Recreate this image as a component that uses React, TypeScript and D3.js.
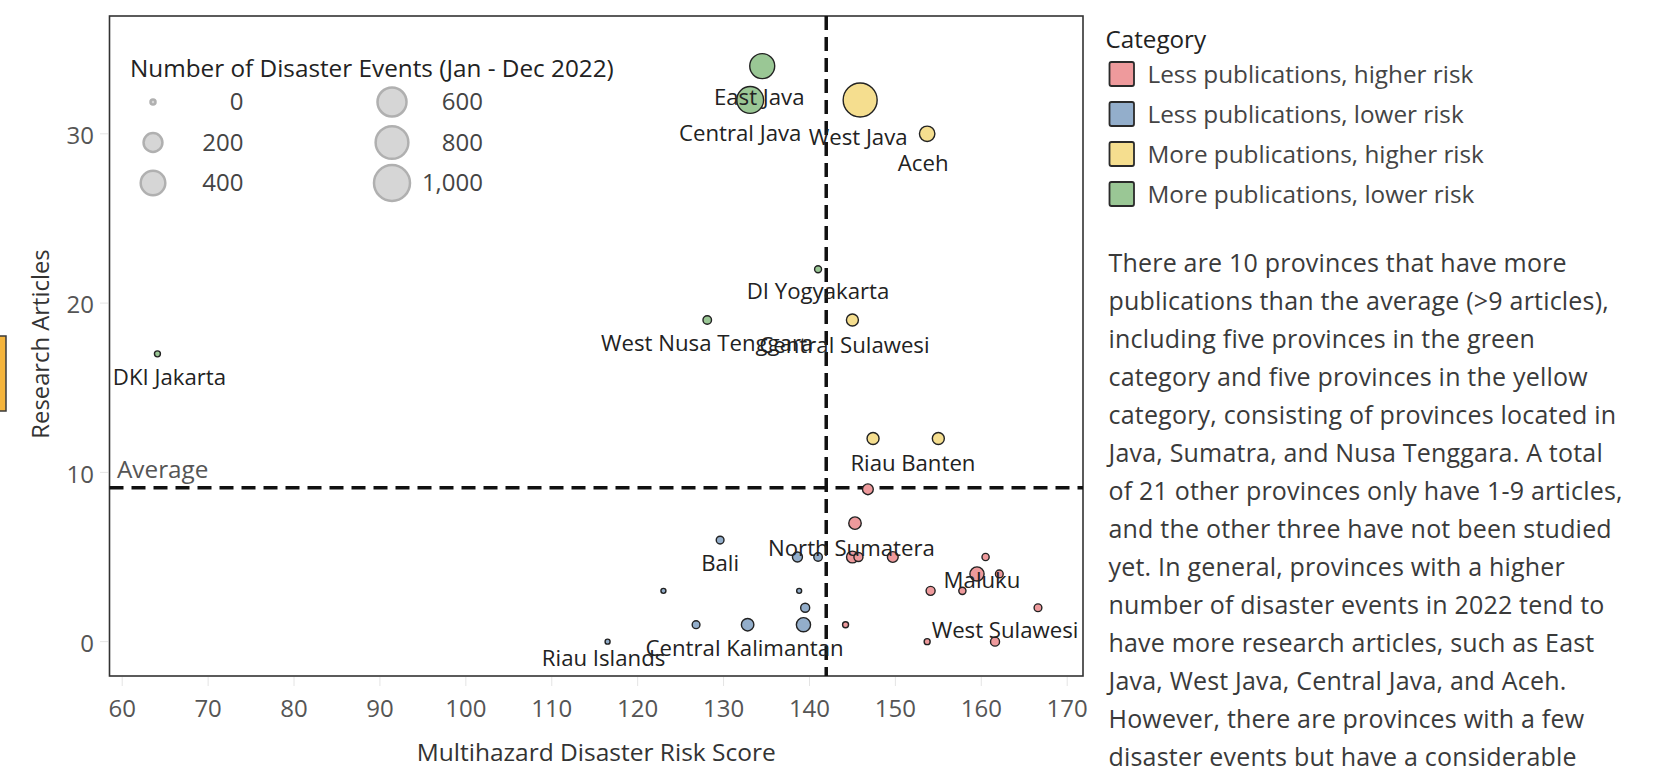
import React from 'react';
import * as d3 from 'd3';

const provinces = [
  'East Java', 'Central Java', 'West Java', 'Aceh', 'DI Yogyakarta', 'West Nusa Tenggara',
  'Central Sulawesi', 'DKI Jakarta', 'Riau', 'Banten', '', '', 'Bali', '', '', 'North Sumatera',
  '', '', '', 'Maluku', '', '', '', '', '', '', '', '', 'Central Kalimantan', '', '',
  'Riau Islands', '', 'West Sulawesi',
];
const riskScores = [
  134.5, 133.1, 145.9, 153.7, 141.0, 128.1, 145.0, 64.1, 147.4, 155.0, 146.8, 145.3, 129.6, 138.6,
  141.0, 145.0, 145.7, 149.7, 160.5, 159.5, 162.1, 123.0, 138.8, 154.1, 157.8, 139.5, 166.6, 126.8,
  132.8, 139.3, 144.2, 116.5, 153.7, 161.6,
];
const researchArticles = [
  34, 32, 32, 30, 22, 19, 19, 17, 12, 12, 9, 7, 6, 5, 5, 5, 5, 5, 5, 4, 4, 3, 3, 3, 3, 2, 2, 1, 1, 1, 1,
  0, 0, 0,
];
const disasterEvents = [
  415, 495, 875, 113, 4, 13, 51, 1, 51, 51, 35, 58, 8, 26, 13, 48, 17, 35, 5, 88, 8, 0, 0, 17, 5, 17,
  8, 8, 58, 88, 1, 0, 1, 17,
];
const categoryNames = [
  'Less publications, higher risk',
  'Less publications, lower risk',
  'More publications, higher risk',
  'More publications, lower risk',
];
const categoryColors = ['#EE9A9C', '#93AECB', '#F5DE8F', '#9AC795'];
const xTicks = [60, 70, 80, 90, 100, 110, 120, 130, 140, 150, 160, 170];
const yTicks = [0, 10, 20, 30];
const sizeLegendValues = [0, 200, 400, 600, 800, 1000];
const paragraphLines = [
  'There are 10 provinces that have more',
  'publications than the average (>9 articles),',
  'including five provinces in the green',
  'category and five provinces in the yellow',
  'category, consisting of provinces located in',
  'Java, Sumatra, and Nusa Tenggara. A total',
  'of 21 other provinces only have 1-9 articles,',
  'and the other three have not been studied',
  'yet. In general, provinces with a higher',
  'number of disaster events in 2022 tend to',
  'have more research articles, such as East',
  'Java, West Java, Central Java, and Aceh.',
  'However, there are provinces with a few',
  'disaster events but have a considerable',
];

// label placement tweaks (dx, dy from point centre)
const labelOffsets: Record<string, [number, number]> = {
  'East Java': [-3, 31],
  'Central Java': [-10, 33],
  'West Java': [-2, 37],
  'Aceh': [-4, 29],
  'Central Sulawesi': [-8, 25],
  'DKI Jakarta': [12, 23],
  'North Sumatera': [-1, -9],
  'Maluku': [5, 6],
  'West Sulawesi': [10, -11],
  'Riau Islands': [-4, 17],
  'Central Kalimantan': [-3, 24],
};

const FONT = "'Open Sans', 'Noto Sans', sans-serif";

export default function App() {
  const W = 1675;
  const H = 766;
  const plot = { left: 109.5, right: 1083, top: 16, bottom: 676 };
  const x = d3.scaleLinear().domain([58.52, 171.84]).range([plot.left, plot.right]);
  const y = d3.scaleLinear().domain([-2.03, 36.96]).range([plot.bottom, plot.top]);
  const r = d3.scaleSqrt().domain([0, 1000]).range([2.5, 18]);
  const avgRisk = d3.mean(riskScores) as number;
  const avgArticles = d3.mean(researchArticles) as number;

  const data = provinces.map((name, i) => {
    const risk = riskScores[i];
    const art = researchArticles[i];
    const cat = art > avgArticles ? (risk > avgRisk ? 2 : 3) : risk > avgRisk ? 0 : 1;
    return { name, risk, art, ev: disasterEvents[i], cat };
  });
  const drawOrder = [...data].sort((a, b) => b.ev - a.ev);

  const sizeLegendPos = (i: number) => ({
    cx: i < 3 ? 153 : 392,
    lx: i < 3 ? 243.5 : 483,
    cy: 102 + (i % 3) * 40.5,
  });

  return (
    <svg
      width={W}
      height={H}
      style={{ position: 'absolute', left: 0, top: 0, display: 'block', background: '#fff' }}
      fontFamily={FONT}
    >
      <rect x={0} y={0} width={W} height={H} fill="#fff" />
      {/* cropped element at far left */}
      <rect x={-6} y={336} width={12} height={75} fill="#F4B43C" stroke="#3a3a3a" strokeWidth={1.5} />

      {/* y ticks */}
      {yTicks.map((t) => (
        <g key={'y' + t}>
          <line x1={100} x2={108} y1={y(t)} y2={y(t)} stroke="#e4e4e4" strokeWidth={1} />
          <text x={94} y={y(t) + 2} dy="0.35em" textAnchor="end" fontSize={24} fill="#555">
            {t}
          </text>
        </g>
      ))}
      {/* x ticks */}
      {xTicks.map((t) => (
        <g key={'x' + t}>
          <line x1={x(t)} x2={x(t)} y1={677} y2={686} stroke="#e4e4e4" strokeWidth={1} />
          <text x={x(t)} y={709} dy="0.35em" textAnchor="middle" fontSize={24} fill="#555">
            {t}
          </text>
        </g>
      ))}

      {/* plot frame */}
      <rect
        x={plot.left}
        y={plot.top}
        width={plot.right - plot.left}
        height={plot.bottom - plot.top}
        fill="none"
        stroke="#333"
        strokeWidth={1.6}
      />

      {/* axis titles */}
      <text
        x={(plot.left + plot.right) / 2}
        y={752}
        dy="0.35em"
        textAnchor="middle"
        fontSize={24.5}
        fill="#333"
        fontWeight={500}
      >
        Multihazard Disaster Risk Score
      </text>
      <text
        transform={`translate(41,${(plot.top + plot.bottom) / 2 - 2}) rotate(-90)`}
        dy="0.35em"
        textAnchor="middle"
        fontSize={23.8}
        fill="#333"
        fontWeight={500}
      >
        Research Articles
      </text>

      {/* reference lines */}
      <line
        x1={plot.left}
        x2={plot.right}
        y1={y(avgArticles)}
        y2={y(avgArticles)}
        stroke="#111"
        strokeWidth={3.5}
        strokeDasharray="14 8"
      />
      <line
        x1={x(avgRisk)}
        x2={x(avgRisk)}
        y1={plot.top}
        y2={plot.bottom}
        stroke="#111"
        strokeWidth={3.5}
        strokeDasharray="14 7"
      />
      <text x={117} y={y(avgArticles) - 18} dy="0.35em" fontSize={24.3} fill="#555">
        Average
      </text>

      {/* size legend */}
      <text x={130} y={68} dy="0.35em" fontSize={24.3} fill="#222" fontWeight={500}>
        Number of Disaster Events (Jan - Dec 2022)
      </text>
      {sizeLegendValues.map((v, i) => {
        const p = sizeLegendPos(i);
        return (
          <g key={'s' + v}>
            <circle cx={p.cx} cy={p.cy} r={r(v)} fill="#d6d6d6" stroke="#b0b0b0" strokeWidth={2.5} />
            <text x={p.lx} y={p.cy} dy="0.35em" textAnchor="end" fontSize={24} fill="#444">
              {d3.format(',')(v)}
            </text>
          </g>
        );
      })}

      {/* points */}
      {drawOrder.map((d, i) => (
        <circle
          key={'p' + i}
          cx={x(d.risk)}
          cy={y(d.art)}
          r={r(d.ev)}
          fill={categoryColors[d.cat]}
          stroke="#222"
          strokeWidth={1.4}
        />
      ))}
      {/* labels */}
      {data
        .filter((d) => d.name)
        .map((d) => {
          const off = labelOffsets[d.name] || [0, r(d.ev) + 19];
          return (
            <text
              key={'l' + d.name}
              x={x(d.risk) + off[0]}
              y={y(d.art) + off[1]}
              dy="0.35em"
              textAnchor="middle"
              fontSize={22.2}
              fill="#222"
            >
              {d.name}
            </text>
          );
        })}

      {/* category legend */}
      <text x={1105.5} y={40} dy="0.35em" fontSize={24.2} fill="#222" fontWeight={500}>
        Category
      </text>
      {categoryNames.map((c, i) => (
        <g key={'c' + i}>
          <rect
            x={1109.5}
            y={62 + i * 40}
            width={24.5}
            height={24}
            rx={2}
            fill={categoryColors[i]}
            stroke="#2a2a2a"
            strokeWidth={1.8}
          />
          <text x={1147.5} y={74 + i * 40} dy="0.35em" fontSize={24.3} fill="#444">
            {c}
          </text>
        </g>
      ))}

      {/* commentary */}
      {paragraphLines.map((line, i) => (
        <text
          key={'t' + i}
          x={1108.5}
          y={263.5 + i * 37.95}
          dy="0.35em"
          fontSize={25}
          letterSpacing={0.2}
          fill="#3a3a3a"
        >
          {line}
        </text>
      ))}
    </svg>
  );
}
